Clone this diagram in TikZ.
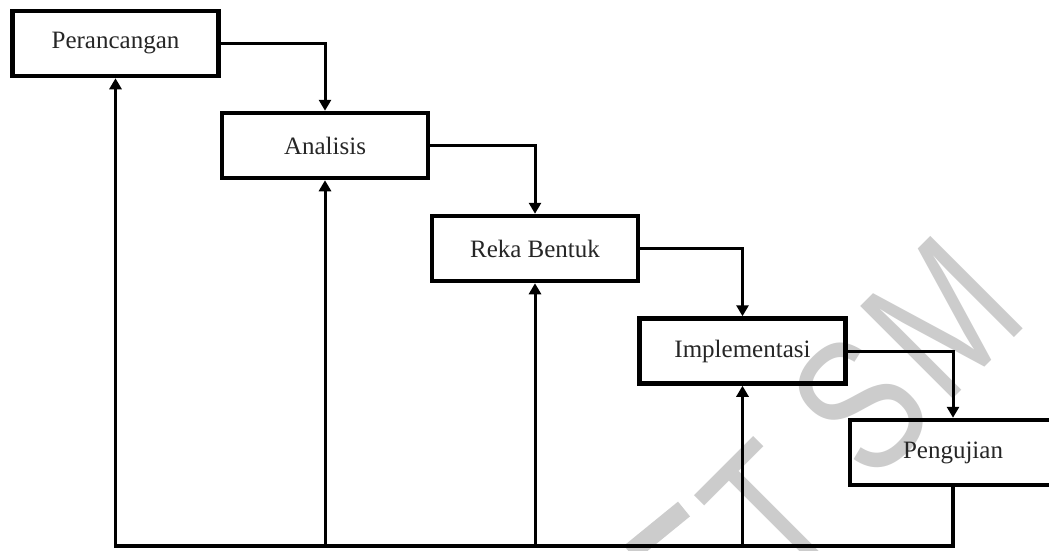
\documentclass[tikz,border=0pt]{standalone}
\usepackage{fontspec}
\setmainfont{Liberation Serif}
\newfontfamily\wmfont[FakeStretch=0.78]{Liberation Sans}
\usetikzlibrary{arrows.meta}
\begin{document}
\begin{tikzpicture}[x=1pt,y=-1pt,
  stagebox/.style={draw=black,line width=4.5pt,minimum width=206pt,minimum height=65pt,
    inner sep=0pt,font=\fontsize{25}{30}\selectfont,text=black!85},
  flow/.style={line width=3pt,-{Triangle[width=12pt,length=11pt]}},
  base/.style={line width=4pt},
  wmletter/.style={text=black!20,font=\wmfont\fontsize{190}{190}\selectfont,rotate=45,inner sep=0pt}]
\useasboundingbox (0,0) rectangle (1049,550);
\clip (0,0) rectangle (1049,550);
\fill[white] (0,0) rectangle (1049,550);
% watermark
\draw[black!20,line width=19pt] (630,553) -- (684,509);
\node[wmletter] (wmT) at (770,512) {T};
\node[wmletter] (wmS) at (860,405) {S};
\node[wmletter] (wmM) at (942,318) {M};
% stages
\node[stagebox] (p) at (115.5,43.5) {Perancangan};
\node[stagebox] (a) at (325,145.5) {Analisis};
\node[stagebox] (r) at (535,248.5) {Reka Bentuk};
\node[stagebox] (i) at (742.5,351) {Implementasi};
\node[stagebox] (g) at (953,452.5) {Pengujian};
% forward connectors
\draw[flow] (p.east) -| (a.north);
\draw[flow] (a.east) -| (r.north);
\draw[flow] (r.east) -| (i.north);
\draw[flow] (i.east) -| (g.north);
% feedback
\coordinate (bl) at (116,546);
\draw[base,line cap=rect] (g.south) |- (bl);
\draw[flow] (p.south |- bl) -- (p.south);
\draw[flow] (a.south |- bl) -- (a.south);
\draw[flow] (r.south |- bl) -- (r.south);
\draw[flow] (i.south |- bl) -- (i.south);
\end{tikzpicture}
\end{document}
